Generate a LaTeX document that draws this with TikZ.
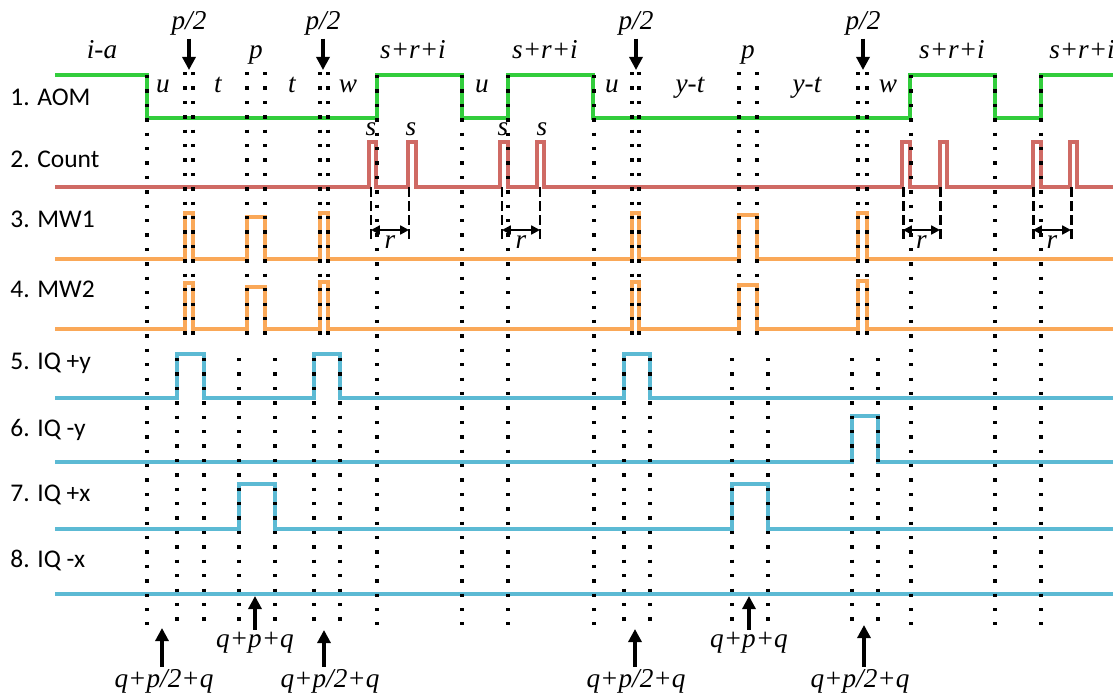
\documentclass[tikz,border=0pt]{standalone}
\usepackage{fontspec}
\setmainfont{Liberation Serif}
\newfontfamily\chanfont{Carlito}
\newfontfamily\timefont{Liberation Serif}
\usetikzlibrary{arrows.meta}
\definecolor{aomgreen}{RGB}{50,205,60}
\definecolor{cntred}{RGB}{207,106,100}
\definecolor{mworange}{RGB}{250,168,88}
\definecolor{iqblue}{RGB}{92,186,212}

\begin{document}
\begin{tikzpicture}[x=0.02cm, y=-0.02cm, line join=miter,
  wave/.style={line width=2.2pt},
  dotline/.style={black, line width=1.9pt, dash pattern=on 1.9pt off 6.3pt},
  dashline/.style={black, line width=1.7pt, dash pattern=on 5.5pt off 2.5pt},
  chan/.style={anchor=base west, inner sep=0pt, font=\chanfont\fontsize{14.5}{16}\selectfont},
  tlabel/.style={anchor=base, inner sep=1pt, font=\timefont\fontsize{15.5}{17}\selectfont\itshape},
  bigarrow/.style={line width=1.8pt, -{Triangle[width=7.5pt,length=7.5pt]}},
  rarrow/.style={line width=1.3pt, {Triangle[width=5pt,length=5pt]}-{Triangle[width=5pt,length=5pt]}}]
  \useasboundingbox (0,0) rectangle (1113,694);

  % channel names
  \node[chan] (cAOM) at (10,105) {1. AOM};
  \node[chan] (cCnt) at (10,167) {2. Count};
  \node[chan] (cMWa) at (10,227) {3. MW1};
  \node[chan] (cMWb) at (10,297) {4. MW2};
  \node[chan] (cIQa) at (10,369) {5. IQ +y};
  \node[chan] (cIQb) at (10,436) {6. IQ -y};
  \node[chan] (cIQc) at (10,501) {7. IQ +x};
  \node[chan] (cIQd) at (10,567) {8. IQ -x};

  % waveforms
  \draw[wave,aomgreen] (55,75) -| (147,118) -| (377,75) -| (462,118) -| (508,75)
    -| (593,118) -| (910,75) -| (995,118) -| (1041,75) -- (1113,75);
  \draw[wave,cntred] (55,187) -- (369,187) |- (376,142) -- (376,187)
    -- (408,187) |- (416,142) -- (416,187) -- (500,187) |- (508,142) -- (508,187)
    -- (537,187) |- (544,142) -- (544,187) -- (902,187) |- (910,142) -- (910,187)
    -- (940,187) |- (947,142) -- (947,187) -- (1033,187) |- (1041,142) -- (1041,187)
    -- (1070,187) |- (1077,142) -- (1077,187) -- (1113,187);
  \draw[wave,mworange] (55,259) -- (185,259) |- (193,213) -- (193,259)
    -- (247,259) |- (265,217) -- (265,259) -- (320,259) |- (328,213) -- (328,259)
    -- (632,259) |- (639,213) -- (639,259) -- (739,259) |- (757,215) -- (757,259)
    -- (858,259) |- (867,213) -- (867,259) -- (1113,259);
  \draw[wave,mworange] (55,329) -- (185,329) |- (193,283) -- (193,329)
    -- (247,329) |- (265,287) -- (265,329) -- (320,329) |- (328,282) -- (328,329)
    -- (632,329) |- (639,282) -- (639,329) -- (739,329) |- (757,285) -- (757,329)
    -- (858,329) |- (867,281) -- (867,329) -- (1113,329);
  \draw[wave,iqblue] (55,398) -- (177,398) |- (204,354) -- (204,398)
    -- (314,398) |- (340,354) -- (340,398) -- (624,398) |- (650,354) -- (650,398)
    -- (1113,398);
  \draw[wave,iqblue] (55,462) -- (852,462) |- (878,416) -- (878,462) -- (1113,462);
  \draw[wave,iqblue] (55,529) -- (239,529) |- (275,484) -- (275,529)
    -- (732,529) |- (768,484) -- (768,529) -- (1113,529);
  \draw[wave,iqblue] (55,594) -- (1113,594);

  % timing guides
  \foreach \x in {147,377,462,508,594,911,995,1041}
    \draw[dotline] (\x,75) -- (\x,625);
  \foreach \x in {185,193,247,265,320,328,632,639,739,757,858,867}
    \draw[dotline] (\x,72) -- (\x,343);
  \foreach \x in {177,204,239,275,314,340,624,650,732,768,852,878}
    \draw[dotline] (\x,358) -- (\x,625);

  % count spacing r
  \foreach \a/\b [count=\i] in {371/409,502/540,903/940,1033/1071} {
    \coordinate (rA\i) at (\a,230);
    \coordinate (rB\i) at (\b,230);
    \draw[dashline] (\a,187) -- (\a,240);
    \draw[dashline] (\b,187) -- (\b,240);
    \draw[rarrow] (rA\i) -- (rB\i);
    \node[tlabel] (rl\i) at ({(\a+\b)/2},248) {r};
  }
  \foreach \x [count=\i] in {371,411,503,542}
    \node[tlabel] (sl\i) at (\x,135) {s};

  % interval labels
  \node[tlabel] (ia) at (102,58) {i-a};
  \node[tlabel] (pa) at (256,58) {p};
  \node[tlabel] (pb) at (748,58) {p};
  \foreach \x [count=\i] in {413,545,952,1082}
    \node[tlabel] (sri\i) at (\x,58) {s+r+i};
  \node[tlabel] (ua) at (163,92) {u};
  \node[tlabel] (ta) at (218,92) {t};
  \node[tlabel] (tb) at (292,92) {t};
  \node[tlabel] (wa) at (348,92) {w};
  \node[tlabel] (ub) at (482,92) {u};
  \node[tlabel] (uc) at (612,92) {u};
  \node[tlabel] (yta) at (690,92) {y-t};
  \node[tlabel] (ytb) at (807,92) {y-t};
  \node[tlabel] (wb) at (888,92) {w};

  % pi/2 pulses from above
  \foreach \x [count=\i] in {189,323,636,863} {
    \node[tlabel] (half\i) at (\x,29) {p/2};
    \coordinate (half\i t) at (\x,70);
    \draw[bigarrow, shorten <=1pt] (half\i) -- (half\i t);
  }

  % IQ windows from below
  \node[tlabel] (qa1) at (164,687) {q+p/2+q};
  \node[tlabel] (qa2) at (330,687) {q+p/2+q};
  \node[tlabel] (qa3) at (636,687) {q+p/2+q};
  \node[tlabel] (qa4) at (860,687) {q+p/2+q};
  \node[tlabel] (qb1) at (255,647) {q+p+q};
  \node[tlabel] (qb2) at (749,647) {q+p+q};
  \coordinate (qa1t) at (162,628);
  \coordinate (qa2t) at (324,630);
  \coordinate (qa3t) at (635,629);
  \coordinate (qa4t) at (864,625);
  \coordinate (qb1t) at (255,596);
  \coordinate (qb2t) at (749,596);
  \draw[bigarrow] (qa1.north -| qa1t) -- (qa1t);
  \draw[bigarrow] (qa2.north -| qa2t) -- (qa2t);
  \draw[bigarrow] (qa3.north -| qa3t) -- (qa3t);
  \draw[bigarrow] (qa4.north -| qa4t) -- (qa4t);
  \draw[bigarrow] (qb1.north -| qb1t) -- (qb1t);
  \draw[bigarrow] (qb2.north -| qb2t) -- (qb2t);
\end{tikzpicture}
\end{document}
